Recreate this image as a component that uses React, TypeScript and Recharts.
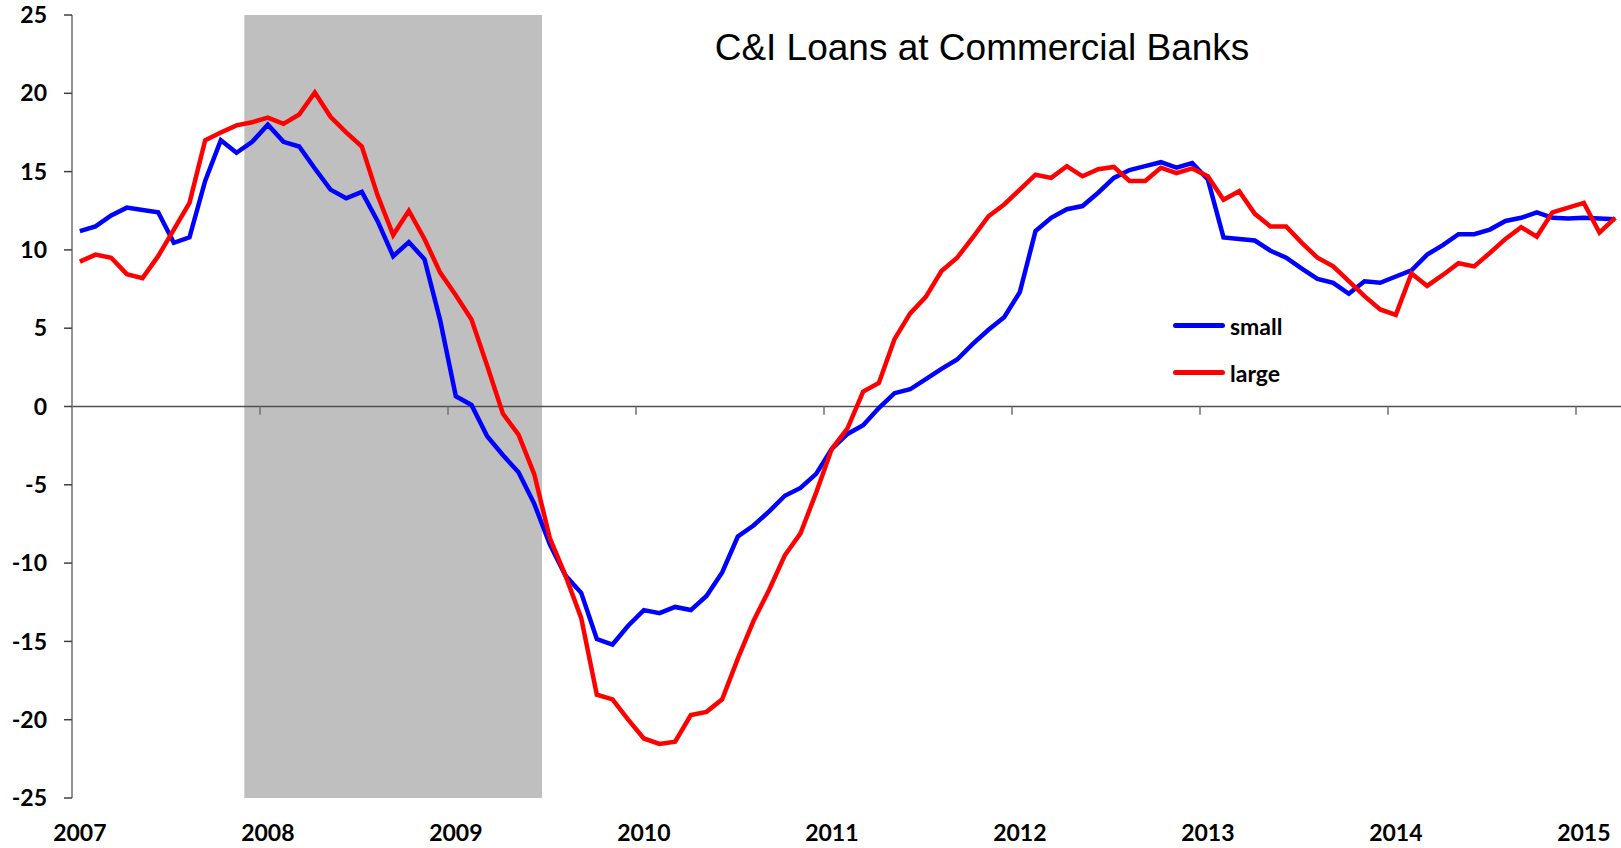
import React from "react";
import { LineChart, Line, XAxis, YAxis, ReferenceArea, ReferenceLine, Legend } from "recharts";

// months Jan 2007 .. Mar 2015
const years = ["2007", "2008", "2009", "2010", "2011", "2012", "2013", "2014", "2015"];
const monthNames = ["01", "02", "03", "04", "05", "06", "07", "08", "09", "10", "11", "12"];
const months: string[] = [];
years.forEach((y) => monthNames.forEach((m) => months.push(`${y}-${m}`)));
months.splice(99);

const small = [
  11.2, 11.5, 12.2, 12.7, 12.55, 12.4, 10.45, 10.8, 14.4, 17.0, 16.2, 16.9,
  18.0, 16.9, 16.6, 15.2, 13.85, 13.3, 13.7, 11.85, 9.6, 10.5, 9.4, 5.5,
  0.65, 0.1, -1.9, -3.1, -4.2, -6.2, -8.8, -10.8, -11.9, -14.85, -15.2, -14.0,
  -13.0, -13.2, -12.8, -13.0, -12.1, -10.6, -8.3, -7.6, -6.7, -5.7, -5.2, -4.3,
  -2.7, -1.75, -1.2, -0.1, 0.85, 1.1, 1.75, 2.4, 3.0, 4.0, 4.9, 5.7,
  7.3, 11.2, 12.05, 12.6, 12.8, 13.65, 14.6, 15.1, 15.35, 15.6, 15.25, 15.55,
  14.5, 10.8, 10.7, 10.6, 9.95, 9.5, 8.8, 8.15, 7.9, 7.2, 8.0, 7.9,
  8.3, 8.7, 9.7, 10.3, 11.0, 11.0, 11.3, 11.85, 12.05, 12.4, 12.05, 12.0,
  12.05, 12.0, 11.95,
];

const large = [
  9.25, 9.7, 9.5, 8.45, 8.2, 9.6, 11.3, 13.0, 17.0, 17.5, 17.95, 18.15,
  18.45, 18.05, 18.65, 20.05, 18.5, 17.5, 16.6, 13.5, 10.95, 12.5, 10.7, 8.55,
  7.1, 5.55, 2.6, -0.45, -1.8, -4.3, -8.4, -10.8, -13.5, -18.4, -18.7, -20.0,
  -21.2, -21.55, -21.4, -19.7, -19.5, -18.7, -16.1, -13.7, -11.7, -9.5, -8.1, -5.5,
  -2.7, -1.4, 0.95, 1.5, 4.3, 5.95, 7.0, 8.65, 9.5, 10.8, 12.15, 12.9,
  13.85, 14.8, 14.6, 15.35, 14.7, 15.15, 15.3, 14.4, 14.4, 15.25, 14.9, 15.2,
  14.7, 13.2, 13.75, 12.3, 11.5, 11.5, 10.45, 9.5, 8.95, 8.0, 7.05, 6.2,
  5.85, 8.5, 7.7, 8.4, 9.15, 8.95, 9.8, 10.7, 11.45, 10.85, 12.4, 12.7,
  13.0, 11.1, 12.05,
];

const yTicks = [-25, -20, -15, -10, -5, 0, 5, 10, 15, 20, 25];
const recessionStart = "2007-12";
const recessionEnd = "2009-06";
const yearStarts = years.slice(1).map((y) => `${y}-01`);
const legendOrder = ["small", "large"];

const data = months.map((m, i) => ({ month: m, small: small[i], large: large[i] }));

const axisGray = "#707070";

const renderLegend = (props: any) => {
  const payload = [...(props.payload || [])].sort(
    (a: any, b: any) => legendOrder.indexOf(a.value) - legendOrder.indexOf(b.value)
  );
  return (
    <div>
      {payload.map((entry: any) => (
        <div key={entry.value} style={{ display: "flex", alignItems: "center", height: 47 }}>
          <span style={{ display: "inline-block", width: 52, height: 5, borderRadius: 3, background: entry.color }} />
          <span style={{ marginLeft: 5, fontFamily: "Lato", fontWeight: 700, fontSize: 23, color: "#000" }}>
            {entry.value}
          </span>
        </div>
      ))}
    </div>
  );
};

export default function App() {
  return (
    <div
      style={{
        position: "absolute",
        left: 0,
        top: 0,
        width: 1621,
        height: 848,
        overflow: "hidden",
        background: "#fff",
      }}
    >
      <LineChart width={1623} height={848} data={data} margin={{ top: 15, right: 0, bottom: 0, left: 0 }}>
        <ReferenceArea x1={recessionStart} x2={recessionEnd} y1={-25} y2={25} fill="#BFBFBF" fillOpacity={1} stroke="none" />
        <XAxis
          dataKey="month"
          scale="band"
          height={50}
          interval={11}
          axisLine={false}
          tickLine={false}
          tickMargin={21}
          tickFormatter={(v: string) => v.slice(0, 4)}
          tick={{ fontFamily: "Lato", fontWeight: 700, fontSize: 23, fill: "#000" }}
        />
        <YAxis
          domain={[-25, 25]}
          ticks={yTicks}
          width={72}
          axisLine={{ stroke: axisGray, strokeWidth: 1.5 }}
          tickLine={{ stroke: "#404040", strokeWidth: 1.5 }}
          tickSize={8}
          tickMargin={17}
          tick={{ fontFamily: "Lato", fontWeight: 700, fontSize: 23, fill: "#000" }}
          allowDataOverflow
        />
        <ReferenceLine y={0} stroke="#505050" strokeWidth={1.5} />
        {yearStarts.map((m) => (
          <ReferenceLine
            key={m}
            position="start"
            segment={[{ x: m, y: 0 }, { x: m, y: -0.53 }]}
            stroke={axisGray}
            strokeWidth={1.5}
          />
        ))}
        <Line type="linear" dataKey="small" name="small" stroke="#0000FF" strokeWidth={4.5} dot={false} isAnimationActive={false} />
        <Line type="linear" dataKey="large" name="large" stroke="#FF0000" strokeWidth={4.5} dot={false} isAnimationActive={false} />
        <Legend
          layout="vertical"
          align="center"
          verticalAlign="middle"
          content={renderLegend}
          wrapperStyle={{ left: 1173, top: 302, width: 140, height: 94 }}
        />
      </LineChart>
      <div
        style={{
          position: "absolute",
          left: 0,
          width: 1964,
          top: 27,
          textAlign: "center",
          fontFamily: "Liberation Sans",
          fontSize: 37,
          color: "#000",
        }}
      >
        C&amp;I Loans at Commercial Banks
      </div>
    </div>
  );
}
